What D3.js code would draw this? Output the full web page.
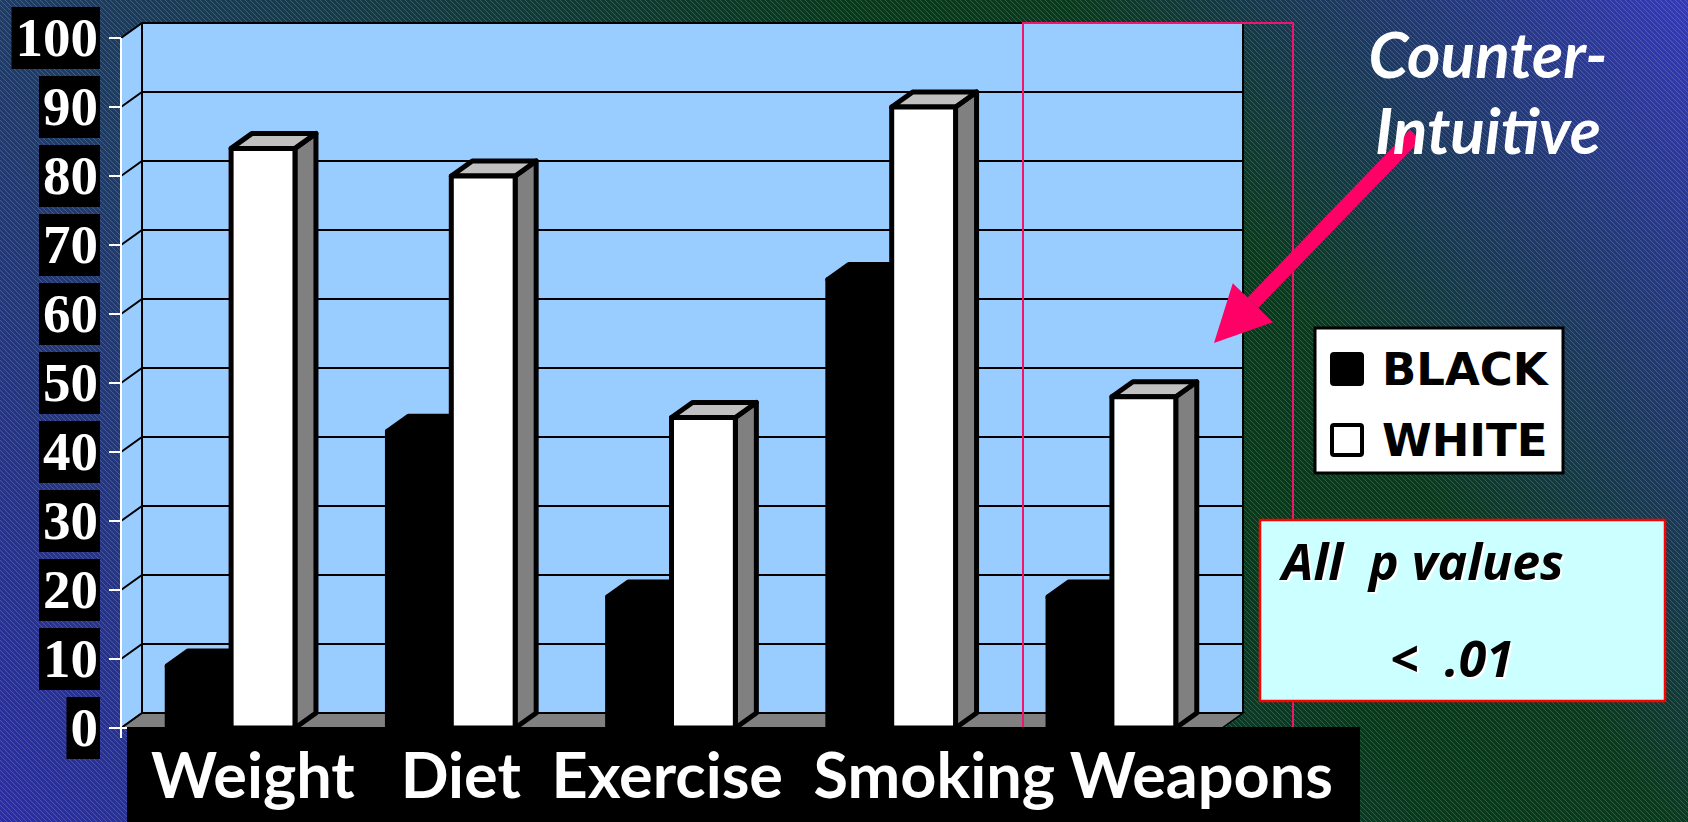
<!DOCTYPE html>
<html>
<head>
<meta charset="utf-8">
<script src="https://cdn.jsdelivr.net/npm/d3@7"></script>
<style>
  html, body { margin: 0; padding: 0; overflow: hidden; background: #1c2f6c; }
  svg { display: block; }
</style>
</head>
<body>
<svg id="chart" width="1688" height="822"></svg>
<script>
// ---- data ----
const categories = ["Weight", "Diet", "Exercise", "Smoking", "Weapons"];
const series = ["BLACK", "WHITE"];
const blackValues = [9, 43, 19, 65, 19];
const whiteValues = [84, 80, 45, 90, 48];
const yTicks = [0, 10, 20, 30, 40, 50, 60, 70, 80, 90, 100];
const calloutLines = ["Counter-", "Intuitive"];
const noteLines = ["All  p values", "<  .01"];

// ---- layout ----
const W = 1688, H = 822;
const front = { left: 121, right: 1222, bottom: 728, top: 38 };
const depth = { dx: 21, dy: -15 };

const svg = d3.select("#chart");
const defs = svg.append("defs");

// slide background: diagonal blue-green gradient with fine hatching
const grad = defs.append("linearGradient")
  .attr("id", "bg").attr("gradientUnits", "userSpaceOnUse")
  .attr("x1", 1449).attr("y1", -328).attr("x2", -45).attr("y2", 763);
[[0, "#3539b8"], [0.27, "#0a3a1e"], [0.36, "#07391a"], [0.74, "#1f3c66"], [1, "#2b2ea2"]]
  .forEach(([o, c]) => grad.append("stop").attr("offset", o).attr("stop-color", c));

const hatch = defs.append("pattern")
  .attr("id", "hatch").attr("patternUnits", "userSpaceOnUse")
  .attr("width", 5).attr("height", 5);
hatch.append("path")
  .attr("d", "M0,0 L5,5 M-1,4 L1,6 M4,-1 L6,1")
  .attr("stroke", "rgba(255,255,255,0.22)").attr("stroke-width", 0.8);

svg.append("rect").attr("width", W).attr("height", H).attr("fill", "url(#bg)");
svg.append("rect").attr("width", W).attr("height", H).attr("fill", "url(#hatch)");

// ---- scales ----
const y = d3.scaleLinear().domain([0, 100]).range([front.bottom, front.top]);
const x = d3.scaleBand().domain(categories)
  .range([front.left, front.right]).paddingInner(0.42).paddingOuter(0.21);
const xs = d3.scaleBand().domain(series).range([0, x.bandwidth()]);

const backL = front.left + depth.dx, backR = front.right + depth.dx;
const yb = v => y(v) + depth.dy;

// ---- walls and floor ----
const walls = svg.append("g");
walls.append("path")
  .attr("d", `M${front.left},${y(0)} L${front.left},${y(100)} L${backL},${yb(100)} L${backL},${yb(0)} Z`)
  .attr("fill", "#99ccff");
walls.append("rect")
  .attr("x", backL).attr("y", yb(100))
  .attr("width", backR - backL).attr("height", yb(0) - yb(100))
  .attr("fill", "#99ccff");
walls.append("path")
  .attr("d", `M${front.left},${y(0)} L${backL},${yb(0)} L${backR},${yb(0)} L${front.right},${y(0)} Z`)
  .attr("fill", "#808080").attr("stroke", "#000").attr("stroke-width", 1.5);

// gridlines: diagonal on the side wall, horizontal on the back wall
walls.selectAll(".grid").data(yTicks).join("path")
  .attr("class", "grid")
  .attr("d", t => `M${front.left},${y(t)} L${backL},${yb(t)} L${backR},${yb(t)}`)
  .attr("fill", "none").attr("stroke", "#000").attr("stroke-width", 2);
walls.append("path")
  .attr("d", `M${backL},${yb(0)} L${backL},${yb(100)} L${backR},${yb(100)} L${backR},${yb(0)}`)
  .attr("fill", "none").attr("stroke", "#000").attr("stroke-width", 2);

// ---- 3D bars ----
const rows = [];
categories.forEach((c, i) => {
  rows.push({ cat: c, s: "BLACK", v: blackValues[i] });
  rows.push({ cat: c, s: "WHITE", v: whiteValues[i] });
});
const palette = {
  BLACK: { front: "#000", top: "#000", side: "#000" },
  WHITE: { front: "#fff", top: "#c0c0c0", side: "#808080" }
};

const bars = svg.append("g")
  .attr("stroke", "#000").attr("stroke-width", 5).attr("stroke-linejoin", "round");
rows.forEach(d => {
  const x0 = x(d.cat) + xs(d.s), w = xs.bandwidth();
  const yt = y(d.v), y0 = y(0);
  const col = palette[d.s];
  const g = bars.append("g");
  g.append("path")
    .attr("d", `M${x0 + w},${yt} L${x0 + w + depth.dx},${yt + depth.dy} L${x0 + w + depth.dx},${y0 + depth.dy} L${x0 + w},${y0} Z`)
    .attr("fill", col.side);
  g.append("path")
    .attr("d", `M${x0},${yt} L${x0 + depth.dx},${yt + depth.dy} L${x0 + w + depth.dx},${yt + depth.dy} L${x0 + w},${yt} Z`)
    .attr("fill", col.top);
  g.append("rect")
    .attr("x", x0).attr("y", yt).attr("width", w).attr("height", y0 - yt)
    .attr("fill", col.front);
});

// ---- value axis ----
const axis = svg.append("g").attr("stroke", "#fff").attr("stroke-width", 2);
axis.append("line")
  .attr("x1", front.left).attr("x2", front.left)
  .attr("y1", y(100)).attr("y2", y(0) + 10);
axis.selectAll(".tick").data(yTicks).join("line")
  .attr("x1", front.left - 12).attr("x2", t => t === 0 ? front.left + 6 : front.left)
  .attr("y1", t => y(t)).attr("y2", t => y(t));

const tickLabels = svg.append("g");
yTicks.forEach(t => {
  const g = tickLabels.append("g");
  const box = g.append("rect").attr("fill", "#000");
  const txt = g.append("text")
    .attr("x", 98).attr("y", y(t) + 18)
    .attr("text-anchor", "end")
    .attr("font-family", "'Liberation Serif', serif")
    .attr("font-weight", "bold").attr("font-size", 55)
    .attr("fill", "#fff").text(t);
  const bb = txt.node().getBBox();
  box.attr("x", bb.x - 4).attr("width", 100 - (bb.x - 4))
    .attr("y", y(t) - 31).attr("height", 62);
});

// ---- highlight frame around the last category ----
svg.append("rect")
  .attr("x", 1023).attr("y", yb(100))
  .attr("width", 270).attr("height", 740)
  .attr("fill", "none").attr("stroke", "#f0146e").attr("stroke-width", 2);

// ---- category label band ----
svg.append("rect")
  .attr("x", 127).attr("y", 727).attr("width", 1233).attr("height", 95)
  .attr("fill", "#000");
const catGaps = ["", "   ", "  ", "  ", " "];
svg.append("text")
  .attr("x", 151).attr("y", 798)
  .attr("xml:space", "preserve")
  .style("white-space", "pre")
  .attr("font-family", "Lato, sans-serif").attr("font-weight", "bold")
  .attr("font-size", 63).attr("fill", "#fff")
  .attr("textLength", 1182).attr("lengthAdjust", "spacingAndGlyphs")
  .text(categories.map((c, i) => catGaps[i] + c).join(""));

// ---- legend ----
const legend = svg.append("g");
legend.append("rect")
  .attr("x", 1315).attr("y", 328).attr("width", 248).attr("height", 145)
  .attr("fill", "#fff").attr("stroke", "#000").attr("stroke-width", 3);
series.forEach((s, i) => {
  const cy = 369 + i * 71;
  legend.append("rect")
    .attr("x", 1332).attr("y", cy - 15).attr("width", 30).attr("height", 30)
    .attr("rx", 2)
    .attr("fill", palette[s].front).attr("stroke", "#000").attr("stroke-width", 4);
  legend.append("text")
    .attr("x", 1382).attr("y", cy + 16)
    .attr("font-family", "'DejaVu Sans', sans-serif").attr("font-weight", "bold")
    .attr("font-size", 45).attr("fill", "#000").text(s);
});

// ---- callout arrow and caption ----
const tail = [1415, 135], tip = [1214, 343];
const ang = Math.atan2(tip[1] - tail[1], tip[0] - tail[0]);
const headLen = 56, headHalf = 28;
const base = [tip[0] - headLen * Math.cos(ang), tip[1] - headLen * Math.sin(ang)];
svg.append("line")
  .attr("x1", tail[0]).attr("y1", tail[1]).attr("x2", base[0]).attr("y2", base[1])
  .attr("stroke", "#ff0066").attr("stroke-width", 15);
svg.append("path")
  .attr("d", `M${tip[0]},${tip[1]}
    L${base[0] + headHalf * Math.sin(ang)},${base[1] - headHalf * Math.cos(ang)}
    L${base[0] - headHalf * Math.sin(ang)},${base[1] + headHalf * Math.cos(ang)} Z`)
  .attr("fill", "#ff0066");

svg.append("g").selectAll("text").data(calloutLines).join("text")
  .attr("x", 1488).attr("y", (d, i) => 78 + i * 76)
  .attr("text-anchor", "middle")
  .attr("font-family", "Lato, sans-serif").attr("font-weight", "bold")
  .attr("font-style", "italic").attr("font-size", 64).attr("fill", "#fff")
  .text(d => d);

// ---- significance note ----
const note = svg.append("g");
note.append("rect")
  .attr("x", 1260).attr("y", 520).attr("width", 405).attr("height", 181)
  .attr("fill", "#ccffff").attr("stroke", "#ff0000").attr("stroke-width", 2.5);
const noteX = [1282, 1390];
[["#fff", 2], ["#000", 0]].forEach(([fill, off]) => {
  note.selectAll(null).data(noteLines).join("text")
    .attr("x", (d, i) => noteX[i] + off).attr("y", (d, i) => 580 + i * 97 + off)
    .attr("xml:space", "preserve").style("white-space", "pre")
    .attr("font-family", "'Open Sans', sans-serif").attr("font-weight", "bold")
    .attr("font-style", "italic").attr("font-size", 50).attr("fill", fill)
    .text(d => d);
});
</script>
</body>
</html>
